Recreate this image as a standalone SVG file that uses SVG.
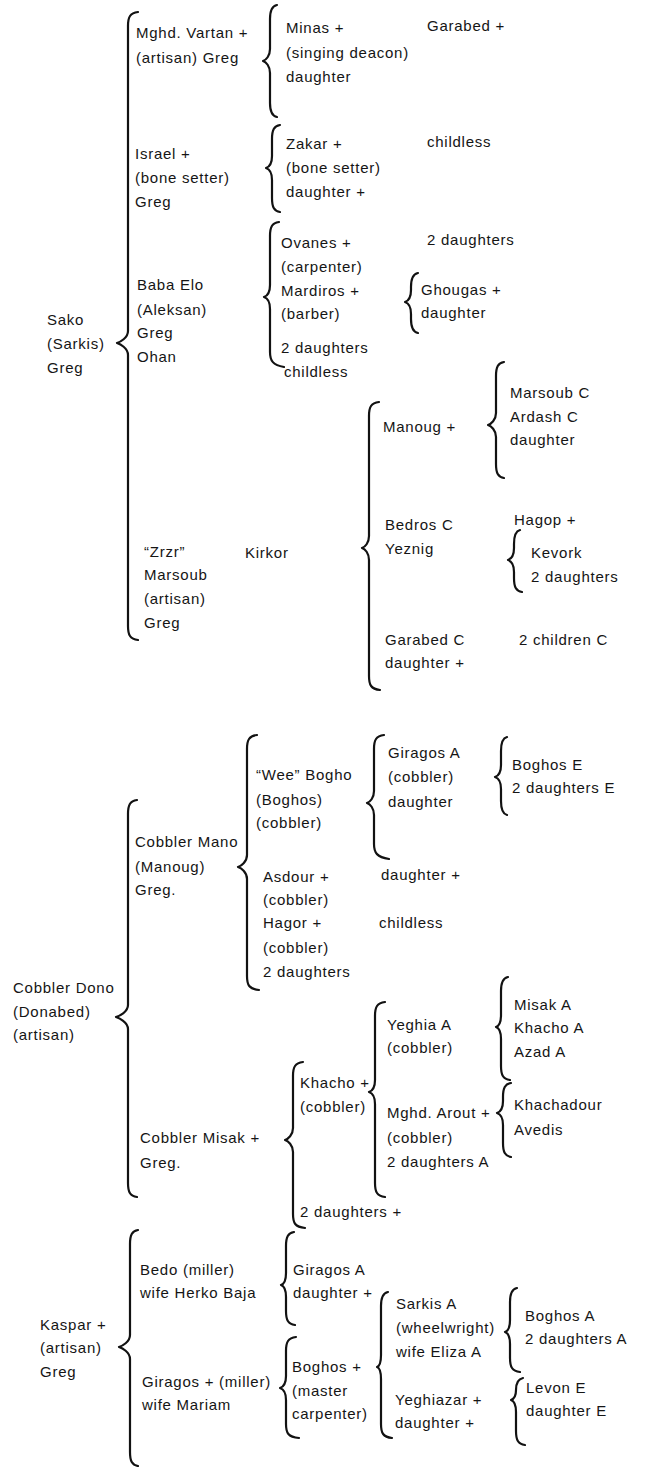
<svg xmlns="http://www.w3.org/2000/svg" width="645" height="1467" viewBox="0 0 645 1467">
  <style>
    text { font-family: "Liberation Sans", Arial, sans-serif; font-size: 15px; fill: #151515; letter-spacing: 0.75px; }
    .brace { fill: none; stroke: #121212; stroke-width: 2.2; stroke-linecap: round; stroke-linejoin: round; }
  </style>
  <rect width="645" height="1467" fill="#ffffff"/>

  <!-- braces joining each person to their children -->
  <g id="connectors">
    <path class="brace" d="M138,12 C130,13 128,17 128,26 L128,331 C128,338 120,342 117,343 C120,344 128,348 128,355 L128,626 C128,635 130,639 138,640"/>
    <path class="brace" d="M277,5 C272,6 270,10 270,19 L270,49 C270,56 266,60 263,61 C266,62 270,66 270,73 L270,103 C270,112 272,116 277,117"/>
    <path class="brace" d="M280,125 C274,126 272,130 272,139 L272,156 C272,163 269,167 266,168 C269,169 272,173 272,180 L272,198 C272,207 274,211 280,212"/>
    <path class="brace" d="M279,222 C272,223 270,227 270,236 L270,285 C270,292 267,296 264,297 C267,298 270,302 270,309 L270,352 C270,361 273,365 284,367"/>
    <path class="brace" d="M418,273 C413,274 411,278 411,287 L411,290 C411,297 408,301 405,302 C408,303 411,307 411,314 L411,319 C411,328 413,332 418,333"/>
    <path class="brace" d="M379,402 C371,403 369,407 369,416 L369,536 C369,543 365,547 362,548 C365,549 369,553 369,560 L369,676 C369,685 371,689 380,690"/>
    <path class="brace" d="M504,362 C498,363 496,367 496,376 L496,413 C496,420 491,424 488,425 C491,426 496,430 496,437 L496,464 C496,473 498,477 504,478"/>
    <path class="brace" d="M520,530 C516,531 514,535 514,544 L514,548 C514,555 511,559 508,560 C511,561 514,565 514,572 L514,578 C514,587 516,591 522,592"/>
    <path class="brace" d="M257,735 C249,736 247,740 247,749 L247,855 C247,862 241,866 238,867 C241,868 247,872 247,879 L247,976 C247,985 249,989 259,990"/>
    <path class="brace" d="M384,735 C376,736 374,740 374,749 L374,791 C374,798 370,802 367,803 C370,804 374,808 374,815 L374,844 C374,853 377,857 389,859"/>
    <path class="brace" d="M507,737 C503,738 501,742 501,751 L501,765 C501,772 498,776 495,777 C498,778 501,782 501,789 L501,801 C501,810 503,814 507,815"/>
    <path class="brace" d="M137,800 C130,801 128,805 128,814 L128,1005 C128,1012 119,1016 116,1017 C119,1018 128,1022 128,1029 L128,1183 C128,1192 130,1196 137,1197"/>
    <path class="brace" d="M385,1002 C377,1003 375,1007 375,1016 L375,1080 C375,1087 372,1091 369,1092 C372,1093 375,1097 375,1104 L375,1183 C375,1192 377,1196 385,1197"/>
    <path class="brace" d="M508,977 C503,978 501,982 501,991 L501,1015 C501,1022 499,1026 496,1027 C499,1028 501,1032 501,1039 L501,1066 C501,1075 503,1079 510,1080"/>
    <path class="brace" d="M511,1083 C505,1084 503,1088 503,1097 L503,1101 C503,1108 500,1112 497,1113 C500,1114 503,1118 503,1125 L503,1143 C503,1152 505,1156 511,1157"/>
    <path class="brace" d="M303,1062 C295,1063 293,1067 293,1076 L293,1128 C293,1135 288,1139 285,1140 C288,1141 293,1145 293,1152 L293,1214 C293,1223 295,1227 305,1228"/>
    <path class="brace" d="M138,1230 C132,1231 130,1235 130,1244 L130,1335 C130,1342 122,1346 119,1347 C122,1348 130,1352 130,1359 L130,1452 C130,1461 132,1465 138,1466"/>
    <path class="brace" d="M294,1232 C288,1233 286,1237 286,1246 L286,1273 C286,1280 284,1284 281,1285 C284,1286 286,1290 286,1297 L286,1311 C286,1320 288,1324 295,1325"/>
    <path class="brace" d="M296,1337 C288,1338 286,1342 286,1351 L286,1376 C286,1383 283,1387 280,1388 C283,1389 286,1393 286,1400 L286,1424 C286,1433 288,1437 299,1438"/>
    <path class="brace" d="M388,1292 C383,1293 381,1297 381,1306 L381,1355 C381,1362 380,1366 377,1367 C380,1368 381,1372 381,1379 L381,1424 C381,1433 383,1437 392,1438"/>
    <path class="brace" d="M517,1288 C512,1289 510,1293 510,1302 L510,1320 C510,1327 508,1331 505,1332 C508,1333 510,1337 510,1344 L510,1358 C510,1367 512,1371 520,1372"/>
    <path class="brace" d="M523,1378 C518,1379 516,1383 516,1390 C516,1396 514,1399 511,1400 C514,1401 516,1405 516,1412 L516,1431 C516,1440 518,1444 525,1445"/>
  </g>

  <!-- Sako branch -->
  <g id="sako"><text x="47" y="325">Sako</text><text x="47" y="349">(Sarkis)</text><text x="47" y="373">Greg</text></g>
  <g id="mghd-vartan"><text x="136" y="38">Mghd. Vartan +</text><text x="136" y="63">(artisan) Greg</text></g>
  <g id="minas"><text x="286" y="33">Minas +</text><text x="286" y="58">(singing deacon)</text><text x="286" y="82">daughter</text></g>
  <g id="garabed"><text x="427" y="31">Garabed +</text></g>
  <g id="israel"><text x="135" y="159">Israel +</text><text x="135" y="183">(bone setter)</text><text x="135" y="207">Greg</text></g>
  <g id="zakar"><text x="286" y="149">Zakar +</text><text x="286" y="173">(bone setter)</text><text x="286" y="197">daughter +</text></g>
  <g id="zakar-childless"><text x="427" y="147">childless</text></g>
  <g id="baba-elo"><text x="137" y="290">Baba Elo</text><text x="137" y="315">(Aleksan)</text><text x="137" y="338">Greg</text><text x="137" y="362">Ohan</text></g>
  <g id="ovanes"><text x="281" y="248">Ovanes +</text><text x="281" y="272">(carpenter)</text><text x="281" y="296">Mardiros +</text><text x="281" y="319">(barber)</text><text x="281" y="353">2 daughters</text><text x="284" y="377">childless</text></g>
  <g id="ovanes-daughters"><text x="427" y="245">2 daughters</text></g>
  <g id="ghougas"><text x="421" y="295">Ghougas +</text><text x="421" y="318">daughter</text></g>
  <g id="zrzr-marsoub"><text x="144" y="557">“Zrzr”</text><text x="144" y="580">Marsoub</text><text x="144" y="604">(artisan)</text><text x="144" y="628">Greg</text></g>
  <g id="kirkor"><text x="245" y="558">Kirkor</text></g>
  <g id="manoug"><text x="383" y="432">Manoug +</text></g>
  <g id="marsoub-c"><text x="510" y="398">Marsoub C</text><text x="510" y="422">Ardash C</text><text x="510" y="445">daughter</text></g>
  <g id="bedros"><text x="385" y="530">Bedros C</text><text x="385" y="554">Yeznig</text></g>
  <g id="hagop"><text x="514" y="525">Hagop +</text></g>
  <g id="kevork"><text x="531" y="558">Kevork</text><text x="531" y="582">2 daughters</text></g>
  <g id="garabed-c"><text x="385" y="645">Garabed C</text><text x="385" y="668">daughter +</text></g>
  <g id="two-children"><text x="519" y="645">2 children C</text></g>

  <!-- Cobbler Dono branch -->
  <g id="cobbler-dono"><text x="13" y="993">Cobbler Dono</text><text x="13" y="1017">(Donabed)</text><text x="13" y="1040">(artisan)</text></g>
  <g id="cobbler-mano"><text x="135" y="847">Cobbler Mano</text><text x="135" y="872">(Manoug)</text><text x="135" y="895">Greg.</text></g>
  <g id="wee-bogho"><text x="256" y="780">“Wee” Bogho</text><text x="256" y="805">(Boghos)</text><text x="256" y="828">(cobbler)</text></g>
  <g id="giragos-a-cobbler"><text x="388" y="758">Giragos A</text><text x="388" y="782">(cobbler)</text><text x="388" y="807">daughter</text></g>
  <g id="boghos-e"><text x="512" y="770">Boghos E</text><text x="512" y="793">2 daughters E</text></g>
  <g id="asdour"><text x="263" y="882">Asdour +</text><text x="263" y="905">(cobbler)</text><text x="263" y="928">Hagor +</text><text x="263" y="953">(cobbler)</text><text x="263" y="977">2 daughters</text></g>
  <g id="asdour-daughter"><text x="381" y="880">daughter +</text></g>
  <g id="hagor-childless"><text x="379" y="928">childless</text></g>
  <g id="cobbler-misak"><text x="140" y="1143">Cobbler Misak +</text><text x="140" y="1168">Greg.</text></g>
  <g id="khacho"><text x="300" y="1088">Khacho +</text><text x="300" y="1112">(cobbler)</text><text x="300" y="1217">2 daughters +</text></g>
  <g id="yeghia"><text x="387" y="1030">Yeghia A</text><text x="387" y="1053">(cobbler)</text></g>
  <g id="misak-a"><text x="514" y="1010">Misak A</text><text x="514" y="1033">Khacho A</text><text x="514" y="1057">Azad A</text></g>
  <g id="mghd-arout"><text x="387" y="1118">Mghd. Arout +</text><text x="387" y="1143">(cobbler)</text><text x="387" y="1167">2 daughters A</text></g>
  <g id="khachadour"><text x="514" y="1110">Khachadour</text><text x="514" y="1135">Avedis</text></g>

  <!-- Kaspar branch -->
  <g id="kaspar"><text x="40" y="1330">Kaspar +</text><text x="40" y="1353">(artisan)</text><text x="40" y="1377">Greg</text></g>
  <g id="bedo"><text x="140" y="1275">Bedo (miller)</text><text x="140" y="1298">wife Herko Baja</text></g>
  <g id="giragos-miller"><text x="142" y="1387">Giragos + (miller)</text><text x="142" y="1410">wife Mariam</text></g>
  <g id="giragos-a"><text x="293" y="1275">Giragos A</text><text x="293" y="1298">daughter +</text></g>
  <g id="boghos-master"><text x="292" y="1372">Boghos +</text><text x="292" y="1396">(master</text><text x="292" y="1419">carpenter)</text></g>
  <g id="sarkis-a"><text x="396" y="1309">Sarkis A</text><text x="396" y="1333">(wheelwright)</text><text x="396" y="1357">wife Eliza A</text></g>
  <g id="yeghiazar"><text x="395" y="1405">Yeghiazar +</text><text x="395" y="1428">daughter +</text></g>
  <g id="boghos-a"><text x="525" y="1321">Boghos A</text><text x="525" y="1344">2 daughters A</text></g>
  <g id="levon-e"><text x="526" y="1393">Levon E</text><text x="526" y="1416">daughter E</text></g>
</svg>
